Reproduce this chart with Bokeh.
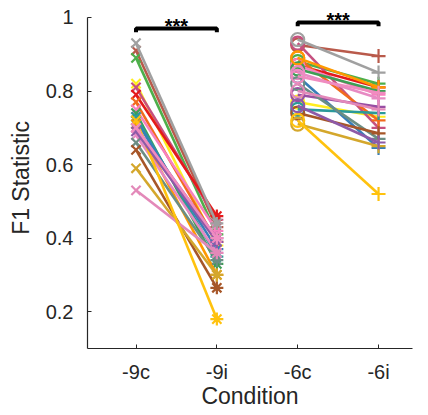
from bokeh.plotting import figure
from bokeh.models import FixedTicker
from bokeh.core.properties import value
from bokeh.embed import file_html
from bokeh.resources import INLINE

conditions = ["-9c", "-9i", "-6c", "-6i"]
x_pos = [1, 2, 3, 4]
y_ticks = [0.2, 0.4, 0.6, 0.8, 1.0]
y_tick_labels = ["0.2", "0.4", "0.6", "0.8", "1"]

colors = ["#B95A4B", "#4DAF4A", "#FFEE1F", "#C6507F", "#E41A1C", "#F26B1D",
          "#F781BF", "#3E9E55", "#2B9A9A", "#377EB8", "#FF9900", "#984EA3",
          "#E78AC3", "#6B8E84", "#A65628", "#D4A72C", "#E389B9", "#FFC20E",
          "#8E5AA8", "#F08CC0", "#A0A0A0"]
f1_9c = [0.91, 0.89, 0.82, 0.81, 0.79, 0.77, 0.75, 0.74, 0.73, 0.72, 0.71, 0.70,
         0.68, 0.66, 0.64, 0.59, 0.53, 0.72, 0.69, 0.70, 0.93]
f1_9i = [0.43, 0.41, 0.38, 0.45, 0.46, 0.39, 0.42, 0.33, 0.35, 0.37, 0.30, 0.40,
         0.36, 0.34, 0.265, 0.30, 0.36, 0.18, 0.39, 0.40, 0.44]
f1_6c = [0.925, 0.88, 0.77, 0.93, 0.87, 0.89, 0.87, 0.86, 0.75, 0.84, 0.89, 0.79,
         0.85, 0.82, 0.74, 0.71, 0.80, 0.72, 0.76, 0.84, 0.94]
f1_6i = [0.895, 0.82, 0.73, 0.70, 0.81, 0.72, 0.79, 0.80, 0.74, 0.645, 0.81, 0.757,
         0.78, 0.67, 0.685, 0.65, 0.75, 0.52, 0.66, 0.795, 0.85]

sig_pairs = [(1, 2), (3, 4)]
sig_y = [0.97, 0.986]
sig_text = ["***", "***"]

p = figure(frame_width=325, frame_height=341, output_backend="svg",
           toolbar_location=None, x_range=(0.4, 4.42), y_range=(0.1, 1.027),
           min_border_left=87, min_border_top=7, min_border_right=5,
           min_border_bottom=44)
p.background_fill_color = "white"
p.outline_line_color = None
p.xgrid.visible = False
p.ygrid.visible = False

for i in range(len(colors)):
    c = colors[i]
    p.line([x_pos[0], x_pos[1]], [f1_9c[i], f1_9i[i]], line_color=c, line_width=2.6)
    p.line([x_pos[2], x_pos[3]], [f1_6c[i], f1_6i[i]], line_color=c, line_width=2.6)
    p.scatter([x_pos[0]], [f1_9c[i]], marker="x", size=13, line_color=c, line_width=2.2)
    p.scatter([x_pos[1]], [f1_9i[i]], marker="asterisk", size=13, line_color=c, line_width=2.2)
    p.scatter([x_pos[2]], [f1_6c[i]], marker="circle", size=13, line_color=c,
              fill_color=None, line_width=2.2)
    p.scatter([x_pos[3]], [f1_6i[i]], marker="cross", size=14, line_color=c, line_width=2.2)

for (a, b), yy, t in zip(sig_pairs, sig_y, sig_text):
    p.line([a, a, b, b], [yy - 0.01, yy, yy, yy - 0.01], line_color="black", line_width=4)
    p.text(x=[(a + b) / 2], y=[yy + 0.008], text=[t], text_align="center",
           text_baseline="alphabetic", text_font=value("Liberation Sans"),
           text_font_size="20px", text_color="black", text_font_style="bold")

p.xaxis.ticker = FixedTicker(ticks=x_pos)
p.xaxis.major_label_overrides = {x: lab for x, lab in zip(x_pos, conditions)}
p.yaxis.ticker = FixedTicker(ticks=y_ticks)
p.yaxis.major_label_overrides = {v: lab for v, lab in zip(y_ticks, y_tick_labels)}
p.yaxis.bounds = (0.1, 1.0)
p.xaxis.axis_label = "Condition"
p.yaxis.axis_label = "F1 Statistic"

for ax in (p.xaxis[0], p.yaxis[0]):
    ax.axis_line_color = "#262626"
    ax.axis_line_width = 1.2
    ax.major_tick_line_color = "#262626"
    ax.major_tick_in = 4
    ax.major_tick_out = 0
    ax.minor_tick_line_color = None
    ax.major_label_text_font = "Liberation Sans"
    ax.major_label_text_font_size = "20px"
    ax.major_label_text_color = "#262626"
    ax.axis_label_text_font = "Liberation Sans"
    ax.axis_label_text_font_size = "23px"
    ax.axis_label_text_font_style = "normal"
    ax.axis_label_text_color = "#262626"

p.xaxis.major_label_standoff = 12
p.xaxis.axis_label_standoff = -3
p.yaxis.major_label_standoff = 14
p.yaxis.axis_label_standoff = 9

open("out.html", "w").write(file_html(p, INLINE))
